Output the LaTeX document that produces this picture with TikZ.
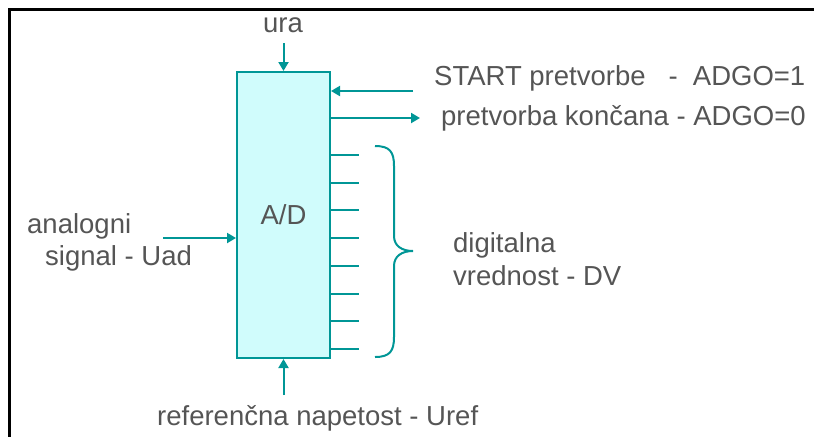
\documentclass[tikz,border=0pt]{standalone}
\usepackage{fontspec}
\setmainfont{Liberation Sans}
\usetikzlibrary{arrows.meta}
\definecolor{teal1}{RGB}{0,150,150}
\definecolor{boxfill}{RGB}{208,252,252}
\definecolor{txt}{RGB}{85,85,85}
\tikzset{
  conv/.style={draw=teal1, fill=boxfill, line width=2pt, minimum width=93pt, minimum height=286pt, inner sep=0pt},
  wire/.style={draw=teal1, line width=2pt},
  sig/.style={wire, -{Triangle[length=9pt,width=10pt]}},
  lbl/.style={text=txt, font=\fontsize{27.5}{33}\selectfont, inner sep=0pt, anchor=base west},
}
\begin{document}
\begin{tikzpicture}[x=1pt, y=-1pt]
\useasboundingbox (0,0) rectangle (814,437);
% frame on the top and left edges
\draw[line width=3pt] (814,9) -- (9,9) -- (9,437);

% converter block
\node[conv] (ad) at (283.5,215) {};
\node[lbl, anchor=base] (adtxt) at (283.5,224) {A/D};

% clock input
\node[lbl, anchor=base] (ura) at (283,32) {ura};
\coordinate (uraend) at (283.5,43);
\draw[sig] (uraend) -- (ad.north);

% start / done handshake
\coordinate (startin) at (413,91);
\coordinate (doneout) at (420,118);
\draw[sig] (startin) -- (ad.east |- startin);
\draw[sig] (ad.east |- doneout) -- (doneout);
\node[lbl] (start) at (434,85) {START pretvorbe\ \ \ -\ \ ADGO=1};
\node[lbl] (done) at (441,125) {pretvorba končana - ADGO=0};

% analog input
\coordinate (anin) at (163,238);
\draw[sig] (anin) -- (ad.west |- anin);
\node[lbl] (an1) at (27,233) {analogni};
\node[lbl] (an2) at (45,265) {signal - Uad};

% reference voltage
\coordinate (refin) at (283.5,395);
\draw[sig] (refin) -- (ad.south);
\node[lbl] (ref) at (157,425) {referenčna napetost - Uref};

% digital output bits
\foreach \yy in {155,182.7,210.4,238.1,265.9,293.6,321.3,349} {
  \draw[wire] (ad.east |- 0,\yy) -- ++(28,0);
}
\draw[wire] (375,146) .. controls (390,146) and (394,152) .. (394,166)
  -- (394,236) .. controls (394,246) and (402,251) .. (413,251)
  .. controls (402,251) and (394,256) .. (394,266)
  -- (394,337) .. controls (394,351) and (390,357) .. (375,357);
\node[lbl] (dv1) at (453,252) {digitalna};
\node[lbl] (dv2) at (453,285) {vrednost - DV};
\end{tikzpicture}
\end{document}
